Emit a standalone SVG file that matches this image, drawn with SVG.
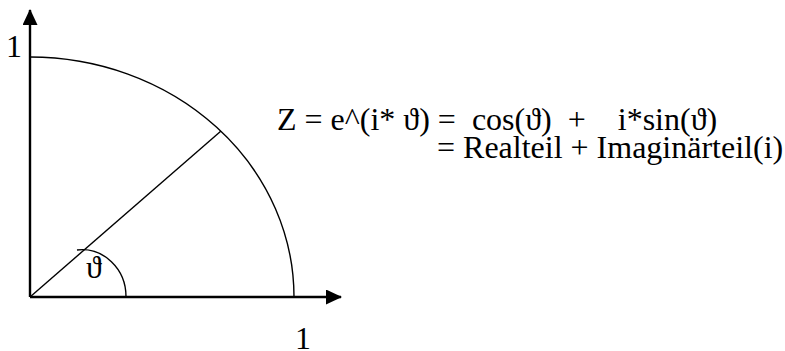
<svg xmlns="http://www.w3.org/2000/svg" width="785" height="351" viewBox="0 0 785 351">
<style>
.axis{stroke:#000;stroke-width:2.4;fill:none}
.thin{stroke:#000;stroke-width:1.4;fill:none}
.t{font-family:"Liberation Serif","DejaVu Serif",serif;font-size:32px;fill:#000;white-space:pre}
</style>
<defs>
<marker id="arr" markerUnits="userSpaceOnUse" markerWidth="17" markerHeight="16" refX="15" refY="7.5" orient="auto">
<path d="M0,0 L16,7.5 L0,15 z" fill="#000"/>
</marker>
</defs>
<rect width="785" height="351" fill="#fff"/>
<g id="connectors">
<line id="x-axis" class="axis" x1="30" y1="297" x2="341" y2="297" marker-end="url(#arr)"/>
<line id="y-axis" class="axis" x1="30" y1="297" x2="30" y2="10" marker-end="url(#arr)"/>
<line id="radius" class="thin" x1="30" y1="297" x2="221" y2="131"/>
</g>
<g id="unit-arc"><path class="thin" d="M30 57 A264 240 0 0 1 294 297"/></g>
<g id="angle-arc"><path class="thin" d="M77 250 A44 47 0 0 1 126 297"/></g>
<g id="label-y1"><text class="t" x="6" y="57">1</text></g>
<g id="label-x1"><text class="t" x="295" y="349">1</text></g>
<g id="label-theta"><text class="t" x="94" y="278" text-anchor="middle">ϑ</text></g>
<g id="formula">
<text class="t" x="277" y="130">Z = e^(i* ϑ) =  cos(ϑ)  +    i*sin(ϑ)</text>
<text class="t" x="437" y="158">= Realteil + Imaginärteil(i)</text>
</g>
</svg>
